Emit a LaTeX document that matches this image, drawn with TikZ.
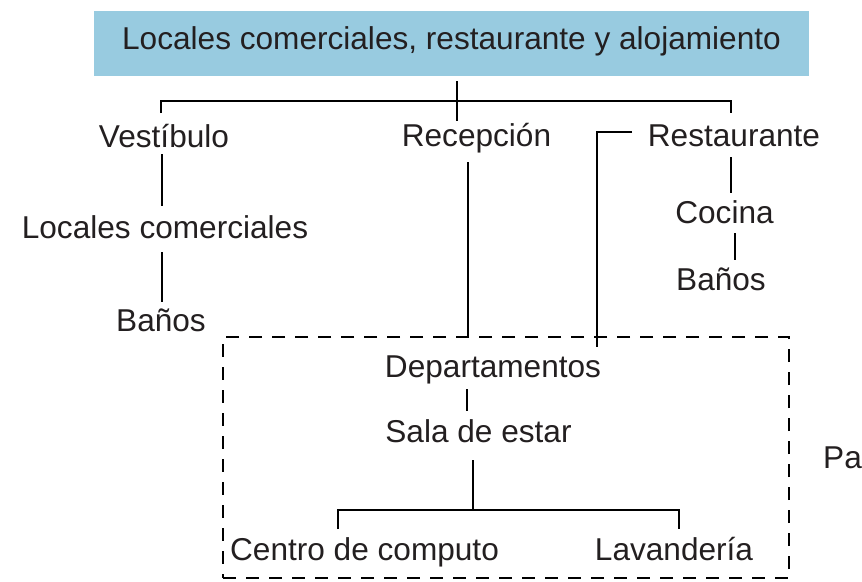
\documentclass[tikz,border=0pt]{standalone}
\usepackage{fontspec}
\setmainfont{Liberation Sans}
\usetikzlibrary{calc}
\definecolor{titleblue}{RGB}{152,203,224}
\definecolor{ink}{RGB}{35,31,32}
\begin{document}
\begin{tikzpicture}[x=1pt,y=-1pt,
  lbl/.style={anchor=base, inner sep=0pt, text=ink, font=\fontsize{31.6}{38}\selectfont},
  titlebox/.style={fill=titleblue, minimum width=715pt, minimum height=65pt, inner sep=0pt,
    text height=23pt, text depth=12pt, text=ink, font=\fontsize{31.6}{38}\selectfont},
  conn/.style={line width=2.5pt, black},
  dashbox/.style={draw, line width=1.5pt, black, dash pattern=on 13pt off 10pt,
    minimum width=566pt, minimum height=241pt, inner sep=0pt}]
\useasboundingbox (0,0) rectangle (862,581);

% title
\node[titlebox] (title) at (451.5,43.5) {Locales comerciales, restaurante y alojamiento};

% dashed group
\node[dashbox] (apt) at (506,457.5) {};

% labels
\node[lbl] (vest) at (164,147) {Vestíbulo};
\node[lbl] (recep) at (476.5,146) {Recepción};
\node[lbl] (rest) at (734,146) {Restaurante};
\node[lbl] (loc) at (165,238) {Locales comerciales};
\node[lbl] (banA) at (161,331) {Baños};
\node[lbl] (coc) at (724.5,223) {Cocina};
\node[lbl] (banB) at (721,290) {Baños};
\node[lbl] (dep) at (493,377) {Departamentos};
\node[lbl] (sala) at (478.5,442) {Sala de estar};
\node[lbl] (centro) at (364.5,560) {Centro de computo};
\node[lbl] (lav) at (674,560) {Lavandería};
\node[lbl, anchor=base west] (pa) at (823,468) {Pa};

% title to first level
\coordinate (t1) at ($(title.south)+(5.5,5)$);
\coordinate (t2) at ($(title.south)+(5.5,45)$);
\coordinate (hub) at ($(title.south)+(5.5,25)$);
\draw[conn] (t1) -- (t2);
\draw[conn] ($(vest.base)+(-3,-34)$) |- (hub) -| ($(rest.base)+(-3,-33)$);

% left branch
\draw[conn] ($(vest.base)+(-2,7)$) -- ($(loc.base)+(-3,-32)$);
\draw[conn] ($(loc.base)+(-3,14)$) -- ($(banA.base)+(1,-29)$);

% reception to apartments
\coordinate (r1) at ($(recep.base)+(-8.5,16)$);
\draw[conn] (r1) -- (r1 |- apt.north);

% restaurant bracket to apartments
\draw[conn] ($(rest.base)+(-102,-14)$) -| ($(dep.base)+(104,-30)$);

% restaurant branch
\draw[conn] ($(rest.base)+(-3,11)$) -- ($(coc.base)+(6.5,-30)$);
\draw[conn] ($(coc.base)+(10.5,10)$) -- ($(banB.base)+(14,-30)$);

% apartments
\draw[conn] ($(dep.base)+(-26,12)$) -- ($(sala.base)+(-11.5,-31)$);
\coordinate (s1) at ($(sala.base)+(-5.5,18)$);
\coordinate (fork) at ($(sala.base)+(-5.5,68)$);
\draw[conn] (s1) -- (fork);
\draw[conn] ($(centro.base)+(-26.5,-31)$) |- (fork) -| ($(lav.base)+(5,-31)$);
\end{tikzpicture}
\end{document}
